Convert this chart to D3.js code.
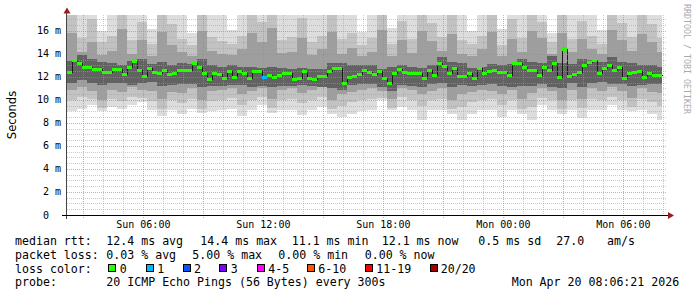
<!DOCTYPE html>
<html><head><meta charset="utf-8">
<script src="https://cdn.jsdelivr.net/npm/d3@7"></script>
<style>
html,body{margin:0;padding:0;background:#fff;}
svg{display:block;}
text{white-space:pre;}
</style></head><body>
<svg id="chart" width="697" height="297"></svg>
<script>
// ---------------- data ----------------
const startTime = "2026-04-19T02:11:00Z";
const endTime = "2026-04-20T08:11:00Z";
const yMaxMs = 17.39;
const yTickValues = [0, 2, 4, 6, 8, 10, 12, 14, 16];
const xLabelTimes = ["2026-04-19T06:00:00Z", "2026-04-19T12:00:00Z", "2026-04-19T18:00:00Z", "2026-04-20T00:00:00Z", "2026-04-20T06:00:00Z"];

// median rtt (ms), one value per 15 minutes
const medianStepMinutes = 15;
const medianMs = [
 12.4, 13.5, 13.25, 12.9, 12.85, 12.72, 12.72, 12.46, 12.43, 12.7,
 12.66, 12.3, 12.9, 13.43, 12.6, 12.1, 12.75, 12.46, 12.37, 12.6,
 12.23, 12.37, 12.58, 12.64, 12.6, 13.19, 12.84, 12.32, 11.8, 12.32,
 12.26, 11.94, 12.55, 12.03, 12.52, 12.35, 11.88, 12.49, 12.49, 11.97,
 12.17, 12.03, 12.17, 12.38, 12.38, 11.8, 11.88, 12.55, 11.88, 11.8,
 12.09, 12.09, 12.55, 12.75, 12.75, 11.5, 12.03, 12.12, 12.26, 12.6,
 12.46, 12.26, 12.55, 11.88, 11.45, 12.35, 12.67, 12.43, 12.35, 12.38,
 12.35, 11.88, 12.6, 12.17, 13.19, 12.96, 12.38, 12.75, 12.09, 12.09,
 12.32, 11.94, 12.75, 12.38, 12.55, 12.6, 12.43, 12.43, 12.17, 13.19,
 13.19, 12.9, 12.58, 12.58, 12.14, 12.9, 12.6, 13.25, 12.03, 14.4,
 12.09, 12.3, 12.46, 13.04, 13.33, 13.48, 12.38, 12.75, 13.04, 12.64,
 12.9, 11.88, 12.32, 12.46, 12.52, 12.03, 12.32, 12.14, 12.14
];
// packet loss: steps with lost pings (all others 0 of 20)
const lossSteps = [39];
const lossLost = [1];

// smoke (ms), one column per 30 minutes, from outer (light) to inner (dark)
const smokeStepMinutes = 30;
const smoke1Hi = [17.4,17.4,17.4,16.0,17.4,17.4,17.4,17.4,16.2,17.4,17.4,17.4,15.8,17.4,17.4,17.4,16.1,17.4,17.4,17.4,17.4,17.4,17.4,17.4,17.4,17.4,17.4,17.4,17.4,15.9,17.4,17.4,16.3,17.4,17.4,17.4,17.4,17.4,17.4,17.4,16.0,17.4,17.4,16.2,17.4,17.4,17.4,17.4,15.8,17.4,17.4,17.4,17.4,16.1,17.4,17.4,17.4,17.4,17.4,17.4];
const smoke1Lo = [9.0,9.2,9.6,9.0,9.4,9.2,9.6,9.8,9.1,8.6,9.1,8.8,9.2,8.9,9.0,9.1,9.2,8.6,9.1,9.6,8.9,9.1,9.1,8.7,9.1,9.4,8.8,8.5,8.8,9.0,9.1,10.0,9.1,9.4,9.1,8.3,9.1,9.1,8.8,8.3,8.8,9.1,9.1,8.5,9.1,8.8,8.3,9.6,9.1,8.8,9.1,8.4,9.1,9.1,9.6,9.1,9.0,9.1,8.8,8.3];
const smoke2Hi = [17.4,15.4,17.0,15.0,15.6,17.4,15.2,16.8,14.9,17.4,16.6,15.3,14.8,17.4,15.5,15.1,14.9,15.6,17.4,16.8,17.4,15.2,15.5,17.1,15.0,15.6,17.4,15.3,15.8,14.8,15.4,17.4,14.9,16.9,15.3,17.4,16.7,15.5,17.4,15.2,14.9,15.6,17.4,14.8,17.0,15.4,17.4,16.8,15.0,17.4,15.3,16.9,15.6,14.9,17.4,16.7,15.5,17.4,16.6,15.4];
const smoke2Lo = [10.0,10.3,10.1,9.3,10.1,9.9,10.3,10.2,9.9,9.2,10.0,9.7,10.1,9.2,9.9,10.0,10.2,9.6,10.0,10.3,9.3,10.0,10.1,9.7,10.0,10.3,9.2,9.5,9.8,10.0,10.1,10.2,9.3,10.3,10.0,9.5,10.0,10.1,9.2,9.4,9.8,10.0,10.1,9.6,10.0,9.2,9.4,10.2,10.0,9.2,10.0,9.3,10.1,10.0,10.3,10.0,9.4,10.1,9.8,9.5];
const smoke3Hi = [15.8,14.2,15.0,13.9,14.3,16.2,14.0,15.2,13.8,15.9,14.8,14.2,13.8,16.0,14.3,14.0,13.9,14.4,15.8,15.0,16.3,14.1,14.2,15.4,13.9,14.4,15.9,14.0,14.5,13.8,14.2,16.1,13.8,15.2,14.1,16.0,15.1,14.3,15.7,14.0,13.8,14.4,15.9,13.8,15.3,14.2,16.0,15.4,14.0,15.8,14.2,15.3,14.4,14.0,16.1,15.2,14.3,15.7,15.0,14.2];
const smoke3Lo = [10.9,11.1,10.8,10.0,10.9,10.7,11.1,10.9,10.8,10.1,10.7,10.6,11.0,10.0,10.8,10.9,11.0,10.5,10.8,11.0,10.1,10.9,11.0,10.6,10.9,11.1,10.0,10.5,10.7,10.9,11.0,10.8,10.1,11.0,10.9,10.5,10.8,11.0,10.0,10.5,10.7,10.9,10.8,10.5,10.9,10.1,10.6,11.0,10.8,10.0,10.9,10.1,11.0,10.8,11.1,10.8,10.2,11.0,10.7,10.6];
const smoke4Hi = [13.4,13.9,13.6,13.3,13.2,13.0,13.4,13.6,13.1,13.3,13.0,13.2,13.1,13.6,13.0,12.9,13.0,12.9,12.9,12.8,12.9,12.8,12.7,12.8,12.7,12.7,13.2,13.2,13.0,13.0,13.0,12.7,12.9,13.0,12.9,12.8,13.0,13.7,13.3,13.2,12.8,12.9,13.1,13.0,13.1,13.6,13.3,13.2,13.8,13.2,13.1,13.6,13.5,13.3,13.7,13.3,13.2,13.0,13.0,12.9];
const smoke4Lo = [11.5,11.7,11.5,11.3,11.5,11.5,11.3,11.5,11.6,11.2,11.3,11.4,11.4,11.1,11.2,11.2,11.3,11.3,11.1,11.2,11.1,11.2,11.2,11.3,11.2,11.1,11.0,10.9,11.3,11.4,11.4,11.1,10.8,11.3,11.2,11.1,11.4,11.5,11.1,11.3,11.2,11.3,11.4,11.2,11.1,11.2,11.2,11.4,11.1,11.0,11.5,11.1,11.5,11.6,11.4,11.4,11.2,11.3,11.4,11.4];

// legend
const lossColorLabels = ["0", "1", "2", "3", "4-5", "6-10", "11-19", "20/20"];
const lossColorValues = ["#26ff00", "#00b8ff", "#0059ff", "#7e00ff", "#ff00ff", "#ff5500", "#ff0000", "#a10000"];
const legendRow1 = ["median rtt:", "12.4 ms avg", "14.4 ms max", "11.1 ms min", "12.1 ms now", "0.5 ms sd", "27.0", "am/s"];
const legendRow2 = ["packet loss:", "0.03 % avg", "5.00 % max", "0.00 % min", "0.00 % now"];
const legendRow3Title = "loss color:";
const legendRow4 = ["probe:", "20 ICMP Echo Pings (56 Bytes) every 300s", "Mon Apr 20 08:06:21 2026"];
const sideTitle = "Seconds";
const watermark = "RRDTOOL / TOBI OETIKER";

// ---------------- drawing ----------------
const svg = d3.select("#chart");
const t0 = new Date(startTime), t1 = new Date(endTime);
const x = d3.scaleUtc().domain([t0, t1]).range([67, 667]);
const y = d3.scaleLinear().domain([0, yMaxMs]).range([215, 15]);
const medT = k => d3.utcMinute.offset(t0, k * medianStepMinutes);
const smkT = j => d3.utcMinute.offset(t0, j * smokeStepMinutes);
const dataEnd = medT(medianMs.length);
const xEnd = x(dataEnd);

svg.append("rect").attr("width", 697).attr("height", 297).attr("fill", "#ffffff");
svg.append("clipPath").attr("id", "plotclip").append("rect")
  .attr("x", 67).attr("y", 15).attr("width", 600).attr("height", 200);
const plot = svg.append("g").attr("clip-path", "url(#plotclip)");

// smoke
const layers = [
  {hi: smoke1Hi, lo: smoke1Lo, color: "#dddddd"},
  {hi: smoke2Hi, lo: smoke2Lo, color: "#c2c2c2"},
  {hi: smoke3Hi, lo: smoke3Lo, color: "#9e9e9e"},
  {hi: smoke4Hi, lo: smoke4Lo, color: "#626262"}
];
layers.forEach(L => {
  plot.append("g").attr("shape-rendering", "crispEdges")
    .selectAll("rect").data(L.lo).join("rect")
    .attr("x", (d, j) => x(smkT(j)))
    .attr("width", (d, j) => Math.max(0, Math.min(x(smkT(j + 1)), xEnd) - x(smkT(j))))
    .attr("y", (d, j) => y(L.hi[j]))
    .attr("height", (d, j) => y(d) - y(L.hi[j]))
    .attr("fill", L.color);
});

// grid (drawn over the smoke)
const grid = svg.append("g").attr("shape-rendering", "crispEdges");
const hVals = d3.range(1, Math.floor(yMaxMs / 0.5) + 1).map(i => i * 0.5);
hVals.forEach(v => {
  const major = Math.abs(v / 2 - Math.round(v / 2)) < 1e-9;
  const py = Math.round(y(v)) + 0.5;
  grid.append("line").attr("x1", 67).attr("x2", 667).attr("y1", py).attr("y2", py)
    .attr("stroke", major ? "rgba(225,110,110,0.65)" : "rgba(160,160,160,0.55)")
    .attr("stroke-dasharray", "1,1");
});
const hours = d3.utcHour.range(d3.utcHour.ceil(t0), t1);
hours.forEach(h => {
  const major = h.getUTCHours() % 3 === 0;
  const px = Math.round(x(h)) + 0.5;
  grid.append("line").attr("x1", px).attr("x2", px).attr("y1", 15).attr("y2", major ? 218 : 217)
    .attr("stroke", major ? "rgba(225,110,110,0.65)" : "rgba(160,160,160,0.55)")
    .attr("stroke-dasharray", "1,1");
});

// median line (black step) and loss-coloured bands
const lossAt = k => { const i = lossSteps.indexOf(k); return i < 0 ? 0 : lossLost[i]; };
const colorFor = n => n === 0 ? lossColorValues[0] : n === 1 ? lossColorValues[1] : n === 2 ? lossColorValues[2]
  : n === 3 ? lossColorValues[3] : n <= 5 ? lossColorValues[4] : n <= 10 ? lossColorValues[5] : n <= 19 ? lossColorValues[6] : lossColorValues[7];
const linePts = medianMs.map((m, k) => [medT(k), m]).concat([[dataEnd, medianMs[medianMs.length - 1]]]);
plot.append("path")
  .attr("d", d3.line().x(d => Math.round(x(d[0])) + 0.5).y(d => Math.round(y(d[1])) + 0.5).curve(d3.curveStepAfter)(linePts))
  .attr("fill", "none").attr("stroke", "#1a1a1a").attr("stroke-width", 1).attr("shape-rendering", "crispEdges");
plot.append("g").attr("shape-rendering", "crispEdges")
  .selectAll("rect").data(medianMs).join("rect")
  .attr("x", (m, k) => Math.round(x(medT(k))))
  .attr("width", (m, k) => Math.round(x(medT(k + 1))) - Math.round(x(medT(k))))
  .attr("y", m => Math.round(y(m)) - 1)
  .attr("height", 3)
  .attr("fill", (m, k) => colorFor(lossAt(k)));

// axes
const axes = svg.append("g").attr("shape-rendering", "crispEdges");
axes.append("line").attr("x1", 66.5).attr("x2", 66.5).attr("y1", 12).attr("y2", 219).attr("stroke", "#444");
axes.append("line").attr("x1", 62).attr("x2", 669).attr("y1", 215.5).attr("y2", 215.5).attr("stroke", "#000");
svg.append("path").attr("d", "M63.5,13.5 L70.5,13.5 L67,7.5 Z").attr("fill", "#9b1c1c");
svg.append("path").attr("d", "M668,212 L668,219 L674,215.5 Z").attr("fill", "#9b1c1c");

// y labels
const mono = "'DejaVu Sans Mono', 'Liberation Mono', monospace";
svg.append("g").selectAll("text").data(yTickValues).join("text")
  .attr("x", 61).attr("y", v => y(v) + 3.5)
  .attr("text-anchor", "end")
  .attr("font-family", mono).attr("font-size", "10px").attr("fill", "#000")
  .text(v => v === 0 ? "0  " : v + " m");

// x labels
const fmt = d3.utcFormat("%a %H:%M");
svg.append("g").selectAll("text").data(xLabelTimes).join("text")
  .attr("x", s => x(new Date(s))).attr("y", 227.5)
  .attr("text-anchor", "middle")
  .attr("font-family", mono).attr("font-size", "10px").attr("fill", "#000")
  .text(s => fmt(new Date(s)));

// titles
svg.append("text").attr("transform", "translate(16,115) rotate(-90)")
  .attr("text-anchor", "middle").attr("font-family", "'DejaVu Sans', sans-serif")
  .attr("font-size", "11.5px").attr("fill", "#000").text(sideTitle);
svg.append("text").attr("transform", "translate(684,4) rotate(90)")
  .attr("text-anchor", "start").attr("font-family", mono)
  .attr("font-size", "8.3px").attr("fill", "#aaaaaa").text(watermark);

// legend
const lg = svg.append("g").attr("font-family", mono).attr("font-size", "11.6px").attr("fill", "#000");
const row1X = [15, 106.3, 200.3, 291.7, 381.7, 478.3, 556.3, 607];
const row2X = [15, 106.3, 192.3, 278.3, 364.7];
const row4X = [15, 106.3, 511.7];
legendRow1.forEach((s, i) => lg.append("text").attr("x", row1X[i]).attr("y", 245).text(s));
legendRow2.forEach((s, i) => lg.append("text").attr("x", row2X[i]).attr("y", 259).text(s));
lg.append("text").attr("x", 15).attr("y", 272.5).text(legendRow3Title);
const boxX = [108, 146, 182.5, 219, 257, 307, 365, 430];
const labX = [119.7, 157.3, 194, 230.7, 268.3, 318.3, 376.3, 440.7];
lossColorLabels.forEach((s, i) => {
  lg.append("rect").attr("x", boxX[i] + 0.5).attr("y", 264.5).attr("width", 7).attr("height", 7)
    .attr("fill", lossColorValues[i]).attr("stroke", "#000").attr("stroke-width", 1).attr("shape-rendering", "crispEdges");
  lg.append("text").attr("x", labX[i]).attr("y", 272.5).text(s);
});
legendRow4.forEach((s, i) => lg.append("text").attr("x", row4X[i]).attr("y", 286).text(s));
</script>
</body></html>
